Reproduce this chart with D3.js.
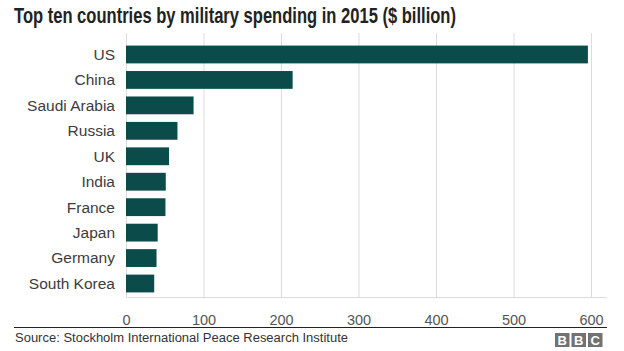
<!DOCTYPE html>
<html>
<head>
<meta charset="utf-8">
<script src="https://cdn.jsdelivr.net/npm/d3@7"></script>
<style>
  body { margin: 0; background: #fff; }
  svg { display: block; font-family: "Liberation Sans", Arial, sans-serif; }
</style>
</head>
<body>
<div id="chart"></div>
<script>
const countries = ['US', 'China', 'Saudi Arabia', 'Russia', 'UK', 'India', 'France', 'Japan', 'Germany', 'South Korea'];
const spending = [596, 215, 87.2, 66.4, 55.5, 51.3, 50.9, 40.9, 39.4, 36.4];
const xTicks = [0, 100, 200, 300, 400, 500, 600];
const title = 'Top ten countries by military spending in 2015 ($ billion)';
const source = 'Source: Stockholm International Peace Research Institute';

const width = 624;
const height = 351;
const plotLeft = 126;
const plotRight = 591;
const plotTop = 33;
const plotBottom = 297;

const svg = d3.select('#chart')
  .append('svg')
  .attr('width', width)
  .attr('height', height);

svg.append('text')
  .attr('x', 14)
  .attr('y', 23)
  .attr('font-size', 21.5)
  .attr('font-weight', 'bold')
  .attr('fill', '#222')
  .attr('textLength', 442)
  .attr('lengthAdjust', 'spacingAndGlyphs')
  .text(title);

const x = d3.scaleLinear().domain([0, 600]).range([plotLeft, plotRight]);
const y = d3.scaleBand()
  .domain(countries)
  .range([41, plotBottom])
  .paddingInner(0.3)
  .paddingOuter(0.18);

// grid lines
svg.append('g')
  .selectAll('line')
  .data(xTicks)
  .join('line')
  .attr('x1', (d) => x(d) + 0.5)
  .attr('x2', (d) => x(d) + 0.5)
  .attr('y1', plotTop)
  .attr('y2', plotBottom)
  .attr('stroke', '#dcdcdc');

svg.append('line')
  .attr('x1', plotLeft)
  .attr('x2', 607)
  .attr('y1', plotBottom + 0.5)
  .attr('y2', plotBottom + 0.5)
  .attr('stroke', '#dcdcdc');

// bars
svg.append('g')
  .selectAll('rect')
  .data(countries)
  .join('rect')
  .attr('x', x(0))
  .attr('y', (d) => y(d))
  .attr('width', (d, i) => x(spending[i]) - x(0))
  .attr('height', y.bandwidth())
  .attr('fill', '#0b4c4b');

// country labels
svg.append('g')
  .selectAll('text')
  .data(countries)
  .join('text')
  .attr('x', 115)
  .attr('y', (d) => y(d) + y.bandwidth() / 2)
  .attr('dy', '0.35em')
  .attr('text-anchor', 'end')
  .attr('font-size', 15.5)
  .attr('fill', '#3c3c3c')
  .text((d) => d);

// x axis
const xAxis = svg.append('g')
  .attr('transform', `translate(0,${plotBottom})`)
  .call(d3.axisBottom(x).tickValues(xTicks).tickSize(0).tickPadding(18));
xAxis.select('.domain').remove();
xAxis.selectAll('text')
  .attr('font-size', 14.5)
  .attr('font-family', '"Liberation Sans", Arial, sans-serif')
  .attr('fill', '#555');

// footer
svg.append('line')
  .attr('x1', 14)
  .attr('x2', 607)
  .attr('y1', 327.5)
  .attr('y2', 327.5)
  .attr('stroke', '#222');

svg.append('text')
  .attr('x', 15)
  .attr('y', 342)
  .attr('font-size', 12.5)
  .attr('fill', '#333')
  .attr('textLength', 333)
  .attr('lengthAdjust', 'spacingAndGlyphs')
  .text(source);

const logo = svg.append('g').attr('transform', 'translate(555,333)');
['B', 'B', 'C'].forEach((letter, i) => {
  logo.append('rect')
    .attr('x', i * 16.5)
    .attr('width', 14.5)
    .attr('height', 14)
    .attr('fill', '#727272');
  logo.append('text')
    .attr('x', i * 16.5 + 7.25)
    .attr('y', 12)
    .attr('text-anchor', 'middle')
    .attr('font-size', 13)
    .attr('font-weight', 'bold')
    .attr('fill', '#fff')
    .text(letter);
});
</script>
</body>
</html>
